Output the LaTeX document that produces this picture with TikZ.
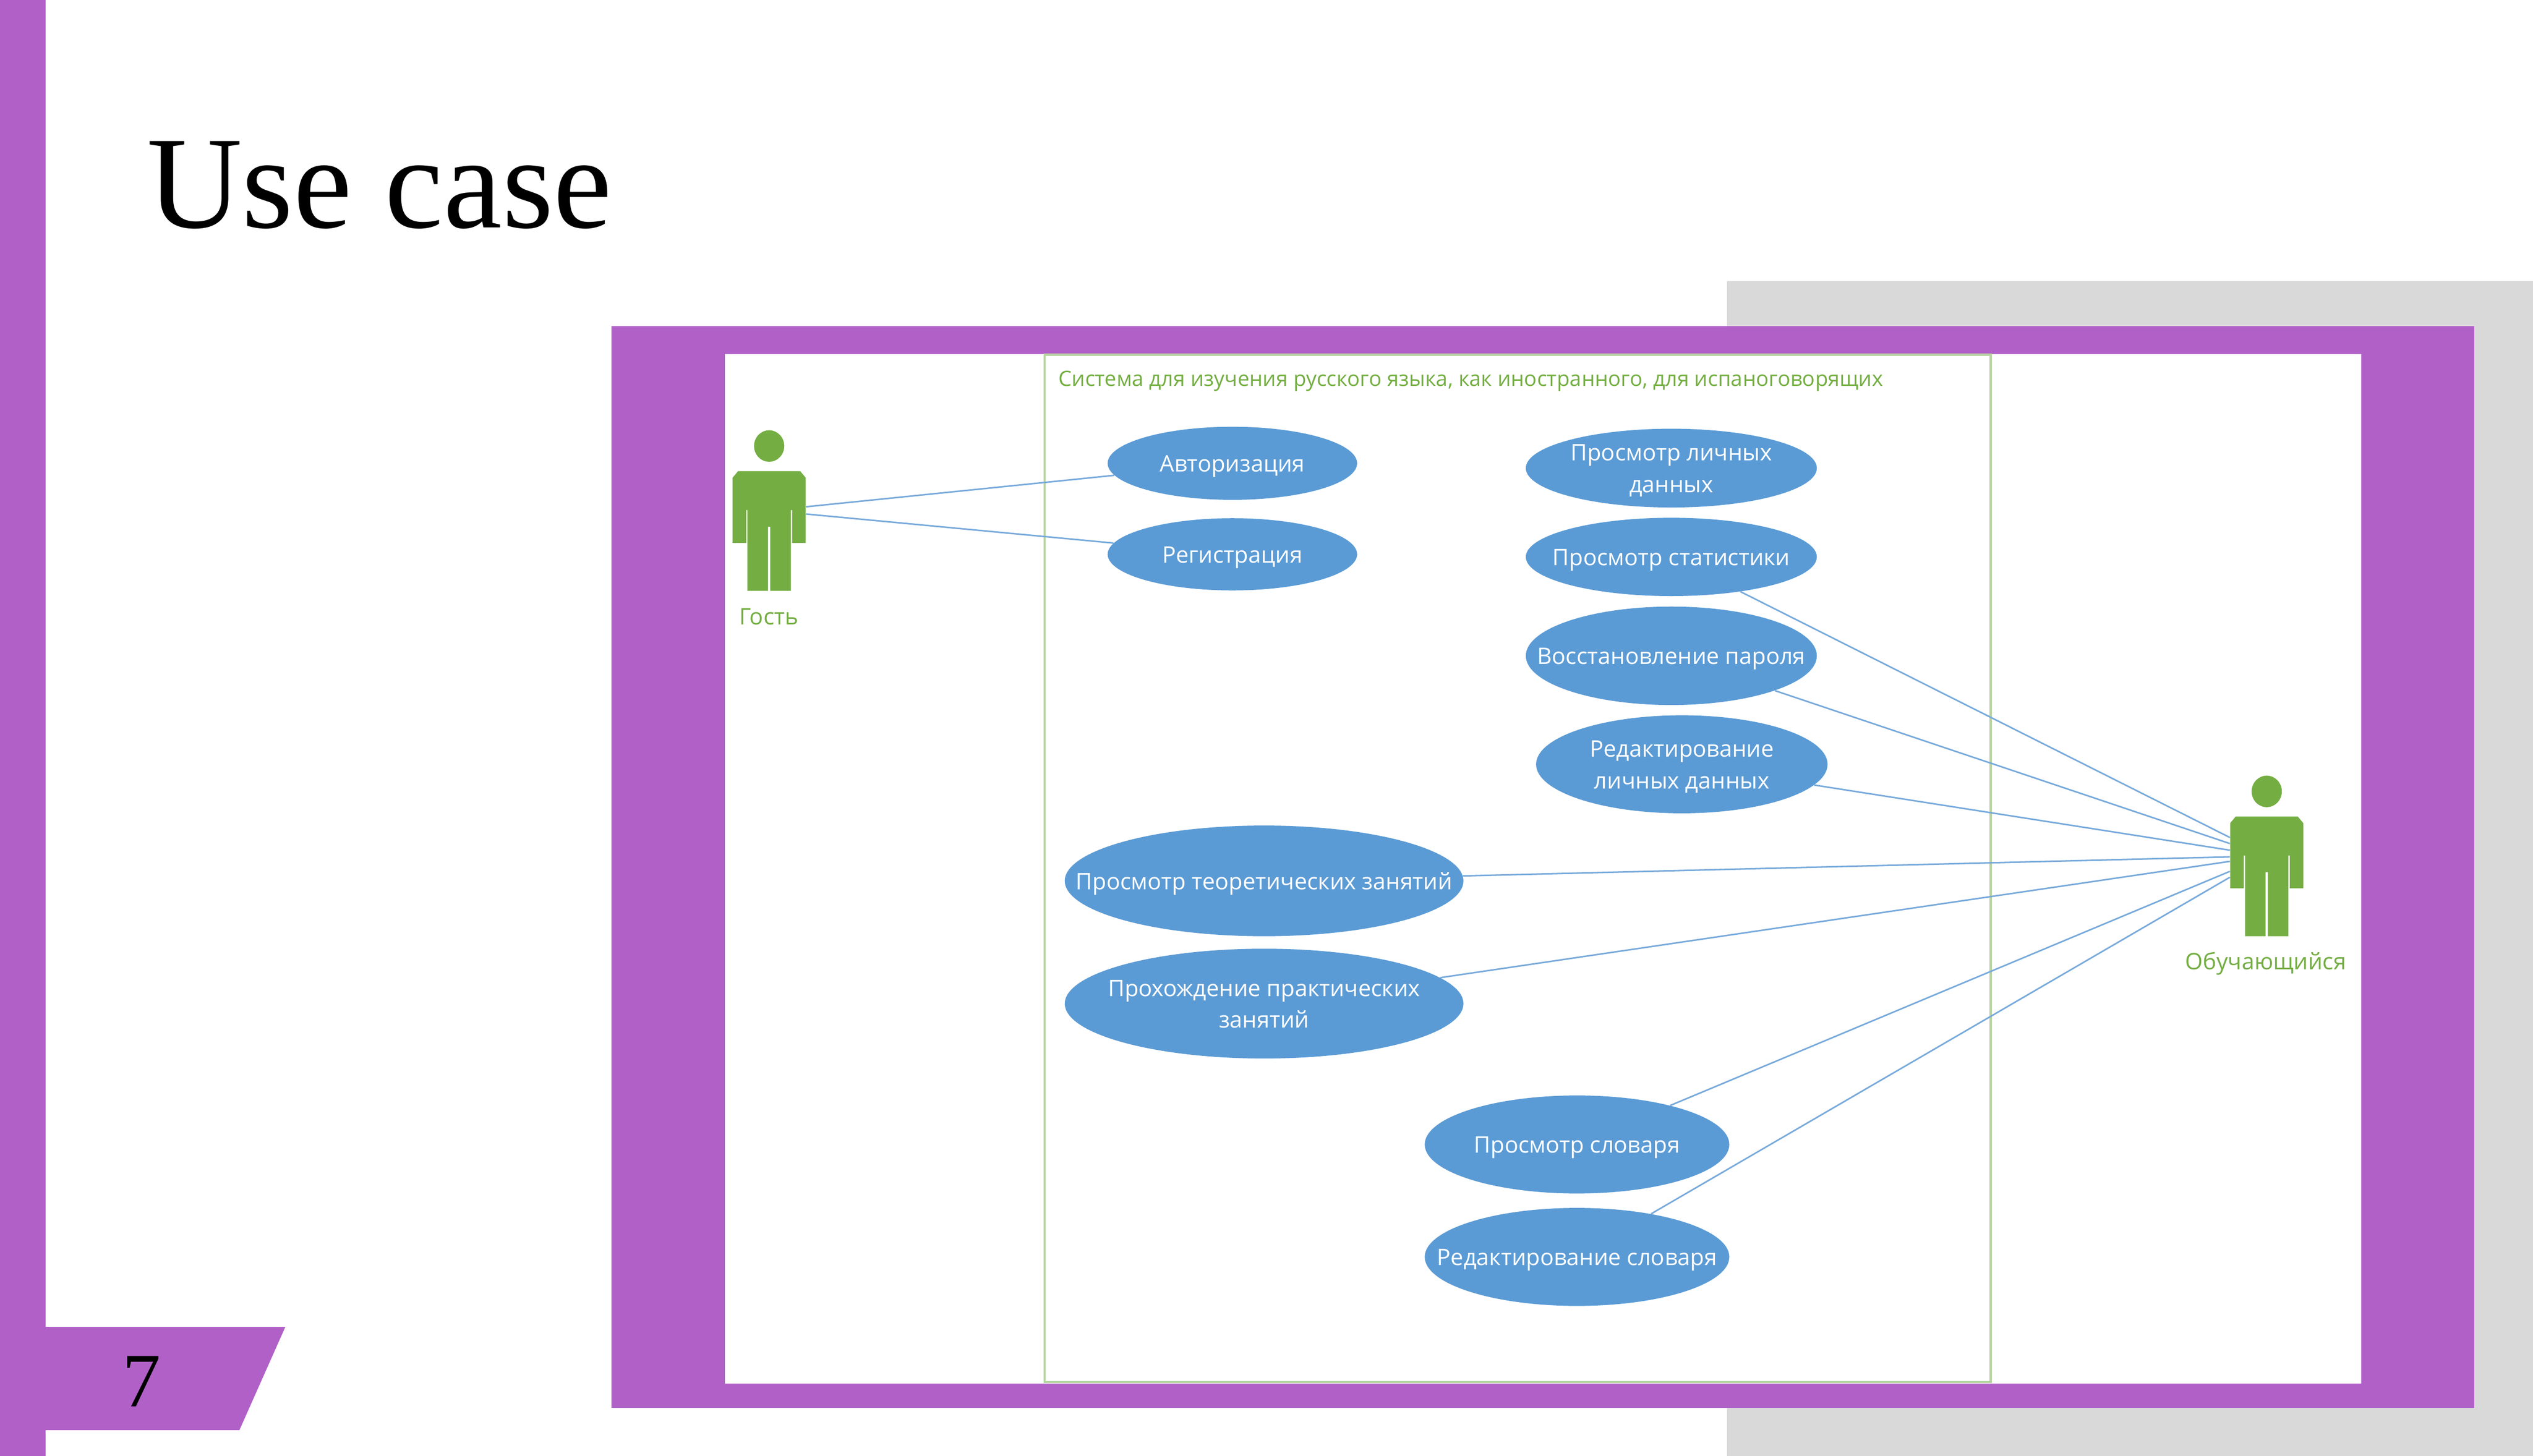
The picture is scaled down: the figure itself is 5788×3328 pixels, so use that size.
\documentclass[tikz,border=0pt]{standalone}
\usepackage{fontspec}
\setmainfont{Liberation Serif}
\newfontfamily\uifont{Open Sans}
\usetikzlibrary{shapes.geometric}
\definecolor{purp}{HTML}{B160C8}
\definecolor{gry}{HTML}{D9D9D9}
\definecolor{grn}{HTML}{74AE42}
\definecolor{lgrn}{HTML}{B9D4A2}
\definecolor{blu}{HTML}{5B9BD5}
\definecolor{lnk}{HTML}{78AADB}
\newcommand{\uctext}[1]{\smash{\makebox[0pt]{\raisebox{-5.0pt}{\begin{tabular}{@{}c@{}}#1\end{tabular}}}}}
\tikzset{
  usecase/.style n args={2}{shape=ellipse,fill=blu,text=white,inner sep=0pt,
    minimum width=#1*0.01cm,minimum height=#2*0.01cm,font=\uifont\fontsize{14.8}{20.5}\selectfont},
  actorbox/.style={shape=rectangle,inner sep=0pt,minimum width=167*0.01cm,minimum height=367*0.01cm},
  link/.style={draw=lnk,line width=1pt},
  actorlabel/.style={text=grn,inner sep=0pt,font=\uifont\fontsize{14.8}{18}\selectfont},
  pics/actorfig/.style={code={
    \fill[grn] (0,-147.5) ellipse [x radius=34.5,y radius=36];
    \fill[grn] (-71,-90) -- (71,-90) -- (83.5,-75) -- (83.5,74) -- (52.5,74) -- (52.5,-1) -- (49.5,-1)
      -- (49.5,183.5) -- (2.5,183.5) -- (2.5,37) -- (-2.5,37) -- (-2.5,183.5) -- (-49.5,183.5)
      -- (-49.5,-1) -- (-52.5,-1) -- (-52.5,74) -- (-83.5,74) -- (-83.5,-75) -- cycle;
  }}
}
\begin{document}
\begin{tikzpicture}[x=0.01cm,y=-0.01cm]
\useasboundingbox (0,0) rectangle (5788,3328);
\fill[white] (0,0) rectangle (5788,3328);
\fill[gry] (3946,642) rectangle (5788,3328);
\fill[purp] (1397,746) rectangle (5654,3218);
\fill[white] (1656,809) rectangle (5395,3163);
\fill[purp] (0,0) rectangle (104,3328);
\fill[purp] (104,3033) -- (652,3033) -- (547,3269) -- (104,3269) -- cycle;
\node[anchor=base west,inner sep=0pt,font=\fontsize{85.7}{90}\selectfont] (title) at (335,520) {Use case};
\node[anchor=base,inner sep=0pt,font=\fontsize{50}{55}\selectfont] (pagenum) at (324,3215) {7};
\draw[lgrn,line width=1.5pt] (2387,811) rectangle (4549,3159);
\node[anchor=base west,text=grn,inner sep=0pt,font=\uifont\fontsize{13.7}{16}\selectfont] (systitle) at (2418,883)
  {Система для изучения русского языка, как иностранного, для испаноговорящих};

\node[usecase={570}{167}] (auth) at (2816,1059) {\uctext{Авторизация}};
\node[usecase={570}{165}] (reg) at (2816,1267) {\uctext{Регистрация}};
\node[usecase={665}{180}] (viewpers) at (3819,1070) {\uctext{Просмотр личных\\данных}};
\node[usecase={665}{179}] (stats) at (3819,1273) {\uctext{Просмотр статистики}};
\node[usecase={665}{225}] (restore) at (3819,1499) {\uctext{Восстановление пароля}};
\node[usecase={666}{224}] (editpers) at (3843,1747) {\uctext{Редактирование\\личных данных}};
\node[usecase={911}{253}] (theory) at (2888.5,2013.5) {\uctext{Просмотр теоретических занятий}};
\node[usecase={911}{251}] (practice) at (2888.5,2294) {\uctext{Прохождение практических\\занятий}};
\node[usecase={696}{224}] (dictview) at (3603.5,2616) {\uctext{Просмотр словаря}};
\node[usecase={696}{224}] (dictedit) at (3603.5,2873) {\uctext{Редактирование словаря}};

\node[actorbox] (guest) at (1757.5,1167) {};
\node[actorbox] (student) at (5179.5,1956.5) {};
\pic at (guest.center) {actorfig};
\pic at (student.center) {actorfig};
\node[actorlabel] (guestlabel) at (1757,1410) {Гость};
\node[actorlabel] (studentlabel) at (5177,2203) {Обучающийся};

\draw[link] (guest) -- (auth);
\draw[link] (guest) -- (reg);
\foreach \t in {stats,restore,editpers,theory,practice,dictview,dictedit}
  \draw[link] (student) -- (\t);
\end{tikzpicture}
\end{document}
